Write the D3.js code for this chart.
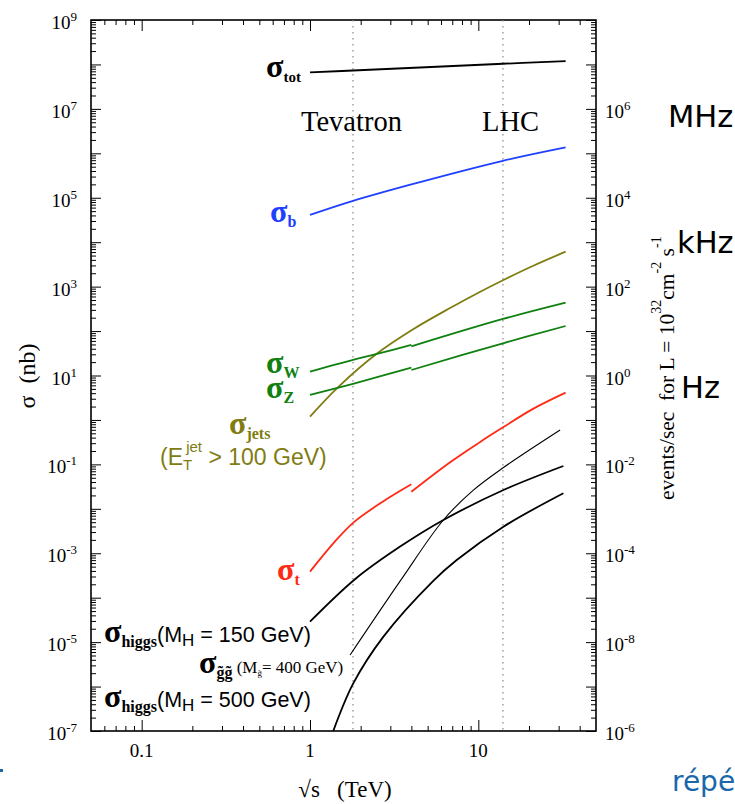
<!DOCTYPE html>
<html><head><meta charset="utf-8">
<script src="https://cdn.jsdelivr.net/npm/d3@7"></script>
<style>body{margin:0;background:#fff} svg{display:block} text{white-space:pre}</style>
</head><body><svg id="chart" width="735" height="804"></svg>
<script>
// ---- data (E in TeV, sigma in nb) ----
const energyTot = [1, 1.8, 14, 33];
const sigmaTot  = [6.6e7, 7.3e7, 1.035e8, 1.19e8];
const energyB = [1, 1.8, 4, 14, 33];
const sigmaB  = [4.1e4, 8.5e4, 2.0e5, 6.8e5, 1.36e6];
const energyJets = [1, 1.47, 2.49, 4.1, 6.8, 10.2, 14.1, 21.2, 33];
const sigmaJets  = [1.19, 5.5, 30.9, 110, 331, 759, 1413, 2951, 6110];
const energyWppbar = [1, 1.8, 2.5, 4];
const sigmaWppbar  = [12.2, 22.4, 30.5, 49];
const energyWpp = [4, 14, 33];
const sigmaWpp  = [45.2, 187, 436];
const energyZppbar = [1, 1.8, 4];
const sigmaZppbar  = [3.65, 6.5, 15.0];
const energyZpp = [4, 14, 33];
const sigmaZpp  = [13.3, 53.1, 130];
const energyTopPpbar = [1, 1.375, 1.81, 2.73, 4];
const sigmaTopPpbar  = [3.85e-4, 1.67e-3, 4.9e-3, 1.48e-2, 3.56e-2];
const energyTopPp = [4, 6.8, 10.2, 14.1, 21, 33];
const sigmaTopPp  = [2.43e-2, 0.112, 0.316, 0.69, 1.75, 4.11];
const energyH150 = [1, 1.85, 3.43, 6.2, 14.1, 32];
const sigmaH150  = [2.88e-5, 2.6e-4, 1.41e-3, 5.6e-3, 2.65e-2, 9.2e-2];
const energyGluino = [1.73, 3.47, 6.2, 9.34, 14.1, 30.6];
const sigmaGluino  = [5.14e-6, 2.51e-4, 5.6e-3, 2.63e-2, 8.5e-2, 0.594];
const energyH500 = [1.375, 1.81, 2.73, 5.4, 7.44, 14.1, 32];
const sigmaH500  = [1e-7, 1.19e-6, 1.33e-5, 2.4e-4, 7.06e-4, 3.97e-3, 2.24e-2];

const leftTickExponents = ["9","7","5","3","1","-1","-3","-5","-7"];
const rightTickValues = [1e6, 1e4, 1e2, 1e0, 1e-2, 1e-4, 1e-6, 1e-8];
const rightTickLabels = ["6","4","2","0","-2","-4","-8","-6"];
const xTickValues = [0.1, 1, 10];
const xTickLabels = ["0.1", "1", "10"];
const colliderEnergies = [1.8, 14];
const colliderNames = ["Tevatron", "LHC"];

// ---- scales ----
const L = 91, R = 596, T = 20, B = 731;
const x = d3.scaleLog().domain([0.05, 50]).range([L, R]);
const y = d3.scaleLog().domain([1e-7, 1e9]).range([B, T]);
const yR = d3.scaleLog().domain([1e-8, 1e8]).range([B, T]);

const svg = d3.select("#chart");
const SERIF = "'Liberation Serif', 'Times New Roman', serif";
const SANS = "'Liberation Sans', Arial, sans-serif";

// ---- ticks ----
const yMajor = d3.range(-7, 10).map(e => Math.pow(10, e));
const yMinor = [];
d3.range(-7, 9).forEach(e => { for (let m = 2; m <= 9; m++) yMinor.push(m * Math.pow(10, e)); });
const yRMajor = d3.range(-8, 9).map(e => Math.pow(10, e));
const yRMinor = [];
d3.range(-8, 8).forEach(e => { for (let m = 2; m <= 9; m++) yRMinor.push(m * Math.pow(10, e)); });
const xMajor = [0.1, 1, 10];
const xMinor = [];
[-2, -1, 0, 1].forEach(e => { for (let m = 2; m <= 9; m++) { const v = m * Math.pow(10, e); if (v > 0.05 && v < 50) xMinor.push(v); } });

function addAxis(axisFn, scale, vals, size, transform) {
  const g = svg.append("g").attr("transform", transform)
    .call(axisFn(scale).tickValues(vals).tickSize(-size).tickSizeOuter(0).tickFormat(""));
  g.select(".domain").remove();
  g.selectAll(".tick line").attr("stroke", "#000").attr("stroke-width", 1);
}
addAxis(d3.axisLeft, y, yMajor, 10, `translate(${L},0)`);
addAxis(d3.axisLeft, y, yMinor, 5, `translate(${L},0)`);
addAxis(d3.axisRight, yR, yRMajor, 10, `translate(${R},0)`);
addAxis(d3.axisRight, yR, yRMinor, 5, `translate(${R},0)`);
addAxis(d3.axisBottom, x, xMajor, 11, `translate(0,${B})`);
addAxis(d3.axisBottom, x, xMinor, 5, `translate(0,${B})`);
addAxis(d3.axisTop, x, xMajor, 11, `translate(0,${T})`);
addAxis(d3.axisTop, x, xMinor, 5, `translate(0,${T})`);

// frame
svg.append("rect").attr("x", L).attr("y", T).attr("width", R - L).attr("height", B - T)
  .attr("fill", "none").attr("stroke", "#000").attr("stroke-width", 1.6);

// tick labels
leftTickExponents.forEach(ex => {
  const yy = y(Math.pow(10, +ex));
  const t = svg.append("text").attr("x", 77).attr("y", yy + 9).attr("text-anchor", "end")
    .attr("font-family", SERIF).attr("font-size", 19);
  t.append("tspan").text("10");
  t.append("tspan").attr("font-size", 13).attr("dy", -8).text(ex);
});
rightTickValues.forEach((v, i) => {
  const yy = yR(v);
  const t = svg.append("text").attr("x", 605).attr("y", yy + 9)
    .attr("font-family", SERIF).attr("font-size", 19);
  t.append("tspan").text("10");
  t.append("tspan").attr("font-size", 13).attr("dy", -8).text(rightTickLabels[i]);
});
xTickValues.forEach((v, i) => {
  svg.append("text").attr("x", x(v)).attr("y", 757).attr("text-anchor", "middle")
    .attr("font-family", SERIF).attr("font-size", 19).text(xTickLabels[i]);
});

// axis titles
svg.append("text").attr("x", 345).attr("y", 797).attr("text-anchor", "middle")
  .attr("font-family", SERIF).attr("font-size", 23).text("\u221As   (TeV)");
svg.append("text").attr("transform", "translate(35,376) rotate(-90)").attr("text-anchor", "middle")
  .attr("font-family", SERIF).attr("font-size", 24).text("\u03C3  (nb)");
{
  const t = svg.append("text").attr("transform", "translate(674,500) rotate(-90)")
    .attr("font-family", SERIF).attr("font-size", 21.5);
  t.append("tspan").text("events/sec  for L = 10");
  t.append("tspan").attr("font-size", 14).attr("dy", -13).text("32");
  t.append("tspan").attr("dy", 13).text("cm");
  t.append("tspan").attr("font-size", 14).attr("dy", -13).text("-2");
  t.append("tspan").attr("dy", 13).text(" s");
  t.append("tspan").attr("font-size", 14).attr("dy", -13).text("-1");
}

// collider lines
colliderEnergies.forEach(e => {
  svg.append("line").attr("x1", x(e)).attr("x2", x(e)).attr("y1", T).attr("y2", B)
    .attr("stroke", "#888").attr("stroke-width", 1.2).attr("stroke-dasharray", "1.5,4.5");
});
svg.append("text").attr("x", 301).attr("y", 131).attr("font-family", SERIF).attr("font-size", 28.5).text(colliderNames[0]);
svg.append("text").attr("x", 482).attr("y", 131).attr("font-family", SERIF).attr("font-size", 28.5).text(colliderNames[1]);

// curves
svg.append("clipPath").attr("id", "plotclip").append("rect")
  .attr("x", L).attr("y", T).attr("width", R - L).attr("height", B - T);
const line = d3.line().x(d => x(d[0])).y(d => y(d[1])).curve(d3.curveCatmullRom.alpha(0.5));
const curves = [
  [energyTot, sigmaTot, "#000", 1.8],
  [energyB, sigmaB, "#2040ff", 1.8],
  [energyJets, sigmaJets, "#807c12", 1.8],
  [energyWppbar, sigmaWppbar, "#10800f", 1.8],
  [energyWpp, sigmaWpp, "#10800f", 1.8],
  [energyZppbar, sigmaZppbar, "#10800f", 1.8],
  [energyZpp, sigmaZpp, "#10800f", 1.8],
  [energyTopPpbar, sigmaTopPpbar, "#ff2a14", 1.8],
  [energyTopPp, sigmaTopPp, "#ff2a14", 1.8],
  [energyH150, sigmaH150, "#000", 1.8],
  [energyGluino, sigmaGluino, "#000", 1.1],
  [energyH500, sigmaH500, "#000", 1.8]
];
const cg = svg.append("g").attr("clip-path", "url(#plotclip)");
curves.forEach(([es, ss, col, w]) => {
  cg.append("path").datum(es.map((e, i) => [e, ss[i]])).attr("d", line)
    .attr("fill", "none").attr("stroke", col).attr("stroke-width", w);
});

// labels
function sigmaLabel(x0, y0, sub, color, subSize = 16) {
  const t = svg.append("text").attr("x", x0).attr("y", y0).attr("fill", color)
    .attr("font-family", SERIF).attr("font-weight", "bold");
  t.append("tspan").attr("font-size", 32).text("\u03C3");
  t.append("tspan").attr("font-size", subSize).attr("dy", 5).text(sub);
  return t;
}
sigmaLabel(266, 77, "tot", "#000", 15);
sigmaLabel(270, 222, "b", "#2040ff");
sigmaLabel(266, 373, "W", "#10800f");
sigmaLabel(266, 398, "Z", "#10800f");
sigmaLabel(229, 434, "jets", "#807c12");
{
  const t = svg.append("text").attr("x", 160).attr("y", 465).attr("fill", "#807c12")
    .attr("font-family", SANS).attr("font-size", 23);
  t.append("tspan").text("(E");
  t.append("tspan").attr("font-size", 15).attr("dy", 5).text("T");
  t.append("tspan").attr("font-size", 15).attr("dx", -6).attr("dy", -18).text("jet");
  t.append("tspan").attr("dy", 13).text(" > 100 GeV)");
}
sigmaLabel(277, 580, "t", "#ff2a14");
function higgsLabel(y0, mass) {
  const t = sigmaLabel(104, y0, "higgs", "#000");
  t.append("tspan").attr("dy", -5).attr("font-family", SANS).attr("font-weight", "normal").attr("font-size", 21.5).text("(M");
  t.append("tspan").attr("dy", 4).attr("font-family", SANS).attr("font-weight", "normal").attr("font-size", 17).text("H");
  t.append("tspan").attr("dy", -4).attr("font-family", SANS).attr("font-weight", "normal").attr("font-size", 21.5).text(" = " + mass + " GeV)");
}
higgsLabel(642, "150");
higgsLabel(707, "500");
{
  const t = sigmaLabel(199, 673, "g\u0303g\u0303", "#000");
  t.append("tspan").attr("dy", -5).attr("font-weight", "normal").attr("font-size", 17).text(" (M");
  t.append("tspan").attr("dy", 3).attr("font-weight", "normal").attr("font-size", 9).text("g\u0303");
  t.append("tspan").attr("dy", -3).attr("font-weight", "normal").attr("font-size", 17).text("= 400 GeV)");
}

// rate annotations
const HZ = "'DejaVu Sans', Verdana, sans-serif";
svg.append("text").attr("x", 668).attr("y", 127).attr("font-family", HZ).attr("font-size", 30.5).text("MHz");
svg.append("text").attr("x", 677).attr("y", 253).attr("font-family", HZ).attr("font-size", 30.5).text("kHz");
svg.append("text").attr("x", 681).attr("y", 398).attr("font-family", HZ).attr("font-size", 30.5).text("Hz");
svg.append("text").attr("x", 672).attr("y", 791).attr("font-family", HZ).attr("font-size", 28).attr("fill", "#1a67aa").text("répé");
svg.append("rect").attr("x", 0).attr("y", 769).attr("width", 3).attr("height", 3).attr("fill", "#1a67aa");
</script></body></html>
